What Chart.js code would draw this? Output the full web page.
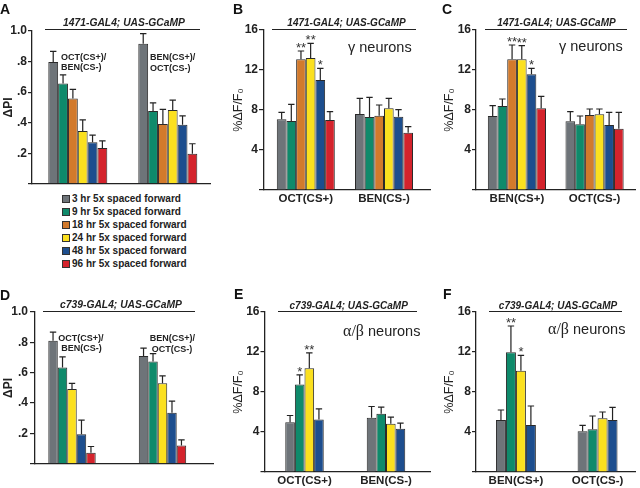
<!DOCTYPE html>
<html>
<head>
<meta charset="utf-8">
<script src="https://cdn.jsdelivr.net/npm/chart.js@4.4.1/dist/chart.umd.min.js"></script>
<style>
  html, body { margin: 0; padding: 0; background: #fff; }
  #fig { position: relative; width: 640px; height: 488px; overflow: hidden;
         font-family: "Liberation Sans", Arial, sans-serif; color: #222; }
  #fig canvas { position: absolute; }
  .t { position: absolute; line-height: 1; white-space: nowrap; }
  .ln { position: absolute; height: 1.3px; background: #222; }
  .sw { position: absolute; width: 6px; height: 6px; border: 1px solid #333; }
</style>
</head>
<body>
<div id="fig"></div>
<script>
// series (time after training)
const seriesNames = ['3 hr 5x spaced forward', '9 hr 5x spaced forward', '18 hr 5x spaced forward',
                     '24 hr 5x spaced forward', '48 hr 5x spaced forward', '96 hr 5x spaced forward'];
const seriesColors = ['#6e7479', '#0f8a6b', '#d27a2c', '#fbe01f', '#1d4e8e', '#d4232c'];

// tick labels
const piTickLabels = ['.2', '.4', '.6', '.8', '1.0'];
const dffTickLabels = ['4', '8', '12', '16'];

// categories
const catsA = [['OCT(CS+)/', 'BEN(CS-)'], ['BEN(CS+)/', 'OCT(CS-)']];
const catsB = ['OCT(CS+)', 'BEN(CS-)'];
const catsC = ['BEN(CS+)', 'OCT(CS-)'];

// A: 1471 behaviour, dPI (mean, sem) per series x category
const aMean = [[0.797, 0.916], [0.656, 0.477], [0.559, 0.392], [0.346, 0.483], [0.272, 0.386], [0.234, 0.196]];
const aSem  = [[0.070, 0.067], [0.057, 0.053], [0.059, 0.095], [0.072, 0.064], [0.047, 0.059], [0.047, 0.066]];

// B: 1471 imaging, OCT paired
const bMean = [[7.07, 7.6], [6.9, 7.3], [13.07, 7.43], [13.2, 8.17], [11.0, 7.33], [7.0, 5.73]];
const bSem  = [[0.7, 1.57], [1.67, 1.97], [0.83, 1.07], [1.47, 1.0], [1.17, 0.7], [0.83, 0.6]];
const bStars = [['', ''], ['', ''], ['**', ''], ['**', ''], ['*', ''], ['', '']];

// C: 1471 imaging, BEN paired
const cMean = [[7.4, 6.87], [8.4, 6.57], [13.07, 7.5], [13.07, 7.57], [11.57, 6.5], [8.17, 6.13]];
const cSem  = [[1.03, 0.96], [0.7, 0.83], [1.43, 0.6], [1.36, 0.53], [0.6, 1.27], [1.2, 1.64]];
const cStars = [['', ''], ['', ''], ['**', ''], ['**', ''], ['*', ''], ['', '']];

// D: c739 behaviour (3, 9, 24, 48, 96 hr)
const dSeries = [0, 1, 3, 4, 5];
const dMean = [[0.811, 0.71], [0.635, 0.674], [0.492, 0.53], [0.194, 0.337], [0.072, 0.12]];
const dSem  = [[0.056, 0.052], [0.07, 0.052], [0.038, 0.049], [0.094, 0.076], [0.042, 0.038]];

// E, F: c739 imaging (3, 9, 24, 48 hr)
const efSeries = [0, 1, 3, 4];
const eMean = [[4.98, 5.42], [8.75, 5.82], [10.38, 4.82], [5.25, 4.32]];
const eSem  = [[0.67, 1.13], [0.97, 0.66], [1.54, 0.66], [1.07, 0.56]];
const eStars = [['', ''], ['*', ''], ['**', ''], ['', '']];
const fMean = [[5.2, 4.07], [11.97, 4.27], [10.13, 5.37], [4.7, 5.2]];
const fSem  = [[1.0, 0.6], [2.63, 1.33], [1.54, 0.63], [1.9, 1.27]];
const fStars = [['', ''], ['**', ''], ['*', ''], ['', '']];

Chart.defaults.font.family = '"Liberation Sans", Arial, sans-serif';
Chart.defaults.color = '#222';

const fig = document.getElementById('fig');

// error bars (upper only) + significance stars
const errPlugin = {
  id: 'errbars',
  afterDatasetsDraw(chart) {
    const ctx = chart.ctx, ys = chart.scales.y;
    ctx.save();
    ctx.strokeStyle = '#222';
    ctx.fillStyle = '#333';
    ctx.lineWidth = 1.2;
    ctx.font = '13px "Liberation Sans", Arial';
    ctx.textAlign = 'center';
    ctx.textBaseline = 'alphabetic';
    chart.data.datasets.forEach((ds, di) => {
      chart.getDatasetMeta(di).data.forEach((bar, i) => {
        const top = ys.getPixelForValue(ds.data[i].y + ds.sem[i]);
        ctx.beginPath();
        ctx.moveTo(bar.x, bar.y);
        ctx.lineTo(bar.x, top);
        ctx.moveTo(bar.x - 3.2, top);
        ctx.lineTo(bar.x + 3.2, top);
        ctx.stroke();
        if (ds.stars && ds.stars[i]) ctx.fillText(ds.stars[i], bar.x, top + 1);
      });
    });
    ctx.restore();
  }
};

function panel(p) {
  const cv = document.createElement('canvas');
  const left = p.area.l - p.yW, top = p.area.t - 16;
  const w = Math.round(p.area.r + 3 - left), h = Math.round(p.area.b + p.xH - top);
  cv.width = w; cv.height = h;
  cv.style.left = left + 'px'; cv.style.top = top + 'px';
  cv.style.width = w + 'px'; cv.style.height = h + 'px';
  fig.appendChild(cv);

  const unit = p.centers[1] - p.centers[0];
  const xMin = 1 - (p.centers[0] - p.area.l) / unit;
  const xMax = 2 + (p.area.r - p.centers[1]) / unit;

  const datasets = p.series.map((si, k) => ({
    label: seriesNames[si],
    data: p.mean[k].map((v, i) => ({ x: i + 1, y: v })),
    sem: p.sem[k],
    stars: p.stars ? p.stars[k] : null,
    backgroundColor: seriesColors[si],
    borderColor: '#2a2a2a',
    borderWidth: 1,
    borderSkipped: 'start',
    barPercentage: 1,
    categoryPercentage: p.groupW / unit
  }));

  new Chart(cv, {
    type: 'bar',
    data: { datasets },
    options: {
      responsive: false,
      animation: false,
      events: [],
      layout: { padding: { top: 16, right: 3, left: 0, bottom: 0 } },
      plugins: { legend: { display: false }, tooltip: { enabled: false } },
      scales: {
        x: {
          type: 'linear',
          offset: false,
          min: xMin,
          max: xMax,
          afterBuildTicks: s => { s.ticks = [{ value: 1 }, { value: 2 }]; },
          afterFit: s => { s.height = p.xH; },
          grid: { display: false, drawTicks: false },
          border: { display: true, color: '#222', width: 1.3 },
          ticks: {
            display: !!p.xLabels,
            padding: 2,
            maxRotation: 0,
            autoSkip: false,
            font: { size: 11.5, weight: 'bold' },
            color: '#222',
            callback: v => (p.xLabels ? p.xLabels[Math.round(v) - 1] : '')
          }
        },
        y: {
          min: 0,
          max: p.yMax,
          afterFit: s => { s.width = p.yW; },
          grid: { display: true, drawOnChartArea: false, drawTicks: true, tickLength: p.tl, color: '#222', lineWidth: 1.2 },
          border: { display: true, color: '#222', width: 1.3 },
          ticks: {
            stepSize: p.step,
            padding: p.tp,
            font: { size: 12, weight: 'bold' },
            color: '#222',
            callback: p.tickFn
          },
          title: {
            display: true,
            text: p.yTitle,
            font: p.yTitleFont,
            color: '#222',
            padding: { top: p.titlePad, bottom: 0 }
          }
        }
      }
    },
    plugins: [errPlugin]
  });
}

const piTick = v => {
  const k = Math.round(v * 10);
  return (k > 0 && k % 2 === 0) ? piTickLabels[k / 2 - 1] : '';
};
const dffTick = v => {
  const k = Math.round(v / 4);
  return k > 0 ? dffTickLabels[k - 1] : '';
};
const piFont = { size: 12, weight: 'bold' };
const dffFont = { size: 12.5, weight: 'normal' };

panel({ area: { l: 32, t: 30.7, r: 210, b: 188.7 }, centers: [77.8, 167.8], groupW: 59, yW: 32, xH: 3,
        series: [0, 1, 2, 3, 4, 5], mean: aMean, sem: aSem, yMax: 1, step: 0.1, tickFn: piTick, tl: 4, tp: 1,
        yTitle: 'ΔPI', yTitleFont: piFont, titlePad: 1 });
panel({ area: { l: 264, t: 30, r: 430, b: 190 }, centers: [305.8, 384], groupW: 58, yW: 34, xH: 20,
        series: [0, 1, 2, 3, 4, 5], mean: bMean, sem: bSem, stars: bStars, xLabels: catsB,
        yMax: 16, step: 4, tickFn: dffTick, tl: 5, tp: 1, yTitle: '%ΔF/F₀', yTitleFont: dffFont, titlePad: 1.5 });
panel({ area: { l: 475.5, t: 30, r: 634, b: 190 }, centers: [516.3, 593.7], groupW: 58, yW: 34, xH: 20,
        series: [0, 1, 2, 3, 4, 5], mean: cMean, sem: cSem, stars: cStars, xLabels: catsC,
        yMax: 16, step: 4, tickFn: dffTick, tl: 4, tp: 1, yTitle: '%ΔF/F₀', yTitleFont: dffFont, titlePad: 0 });
panel({ area: { l: 35, t: 312.3, r: 213, b: 470.7 }, centers: [72, 162.5], groupW: 47.4, yW: 35, xH: 3,
        series: dSeries, mean: dMean, sem: dSem, yMax: 1, step: 0.1, tickFn: piTick, tl: 5, tp: 2,
        yTitle: 'ΔPI', yTitleFont: piFont, titlePad: 1 });
panel({ area: { l: 265, t: 311.5, r: 430, b: 471.5 }, centers: [304.5, 386], groupW: 38.5, yW: 35, xH: 17,
        series: efSeries, mean: eMean, sem: eSem, stars: eStars, xLabels: catsB,
        yMax: 16, step: 4, tickFn: dffTick, tl: 4.5, tp: 1, yTitle: '%ΔF/F₀', yTitleFont: dffFont, titlePad: 1.5 });
panel({ area: { l: 475.7, t: 312, r: 635, b: 472 }, centers: [515.7, 597.5], groupW: 40, yW: 34, xH: 16,
        series: efSeries, mean: fMean, sem: fSem, stars: fStars, xLabels: catsC,
        yMax: 16, step: 4, tickFn: dffTick, tl: 4, tp: 1, yTitle: '%ΔF/F₀', yTitleFont: dffFont, titlePad: 0 });

// ---- text and decorations ----
function txt(s, x, y, css, centered) {
  const d = document.createElement('div');
  d.className = 't';
  d.textContent = s;
  d.style.cssText += css;
  d.style.left = x + 'px';
  d.style.top = y + 'px';
  d.style.transform = centered ? 'translate(-50%,-50%)' : 'translateY(-50%)';
  fig.appendChild(d);
  return d;
}
function hline(x1, x2, y) {
  const d = document.createElement('div');
  d.className = 'ln';
  d.style.left = x1 + 'px'; d.style.top = y + 'px'; d.style.width = (x2 - x1) + 'px';
  fig.appendChild(d);
}

const letterCss = 'font-size:14px;font-weight:bold;color:#111;';
txt('A', 0, 8.5, letterCss);
txt('B', 233, 8.5, letterCss);
txt('C', 442, 8.5, letterCss);
txt('D', 0, 295, letterCss);
txt('E', 234, 293.5, letterCss);
txt('F', 443, 293.5, letterCss);

const headCss = 'font-size:10px;font-weight:bold;font-style:italic;';
txt('1471-GAL4; UAS-GCaMP', 124, 22.7, 'font-size:10.3px;font-weight:bold;font-style:italic;', true);
txt('1471-GAL4; UAS-GCaMP', 346.5, 22.7, headCss, true);
txt('1471-GAL4; UAS-GCaMP', 556.5, 22.7, headCss, true);
txt('c739-GAL4; UAS-GCaMP', 121, 305, 'font-size:10.3px;font-weight:bold;font-style:italic;', true);
txt('c739-GAL4; UAS-GCaMP', 348.7, 305.5, headCss, true);
txt('c739-GAL4; UAS-GCaMP', 558, 305.5, headCss, true);
hline(45, 200, 28.7);
hline(272, 416, 28.7);
hline(485, 627, 28.7);
hline(43, 195, 310.7);
hline(278, 417, 310.7);
hline(489, 622, 310.7);

const neurCss = 'font-size:14.5px;';
txt('γ neurons', 348, 46.5, neurCss);
txt('γ neurons', 559, 46, neurCss);
function abLabel(x, y) {
  const d = txt('', x, y, neurCss);
  d.innerHTML = '<span style="font-family:\'Liberation Serif\',serif;font-size:16px">α/β</span> neurons';
}
abLabel(343, 331);
abLabel(548, 329);

// odor-pair annotations in A and D
const annCss = 'font-size:9px;font-weight:bold;';
txt(catsA[0][0], 61, 56.7, annCss);
txt(catsA[0][1], 61, 67.3, annCss);
txt(catsA[1][0], 150, 57.3, annCss);
txt(catsA[1][1], 150, 67.7, annCss);
txt(catsA[0][0], 81, 337.7, annCss, true);
txt(catsA[0][1], 81.5, 348.3, annCss, true);
txt(catsA[1][0], 172.3, 337.7, annCss, true);
txt(catsA[1][1], 172, 349, annCss, true);

// legend
seriesNames.forEach((name, i) => {
  const y = 199 + i * 12.9;
  const sw = document.createElement('div');
  sw.className = 'sw';
  sw.style.left = '61.5px';
  sw.style.top = (y - 4) + 'px';
  sw.style.background = seriesColors[i];
  fig.appendChild(sw);
  txt(name, 72, y, 'font-size:10px;font-weight:bold;');
});
</script>
</body>
</html>
